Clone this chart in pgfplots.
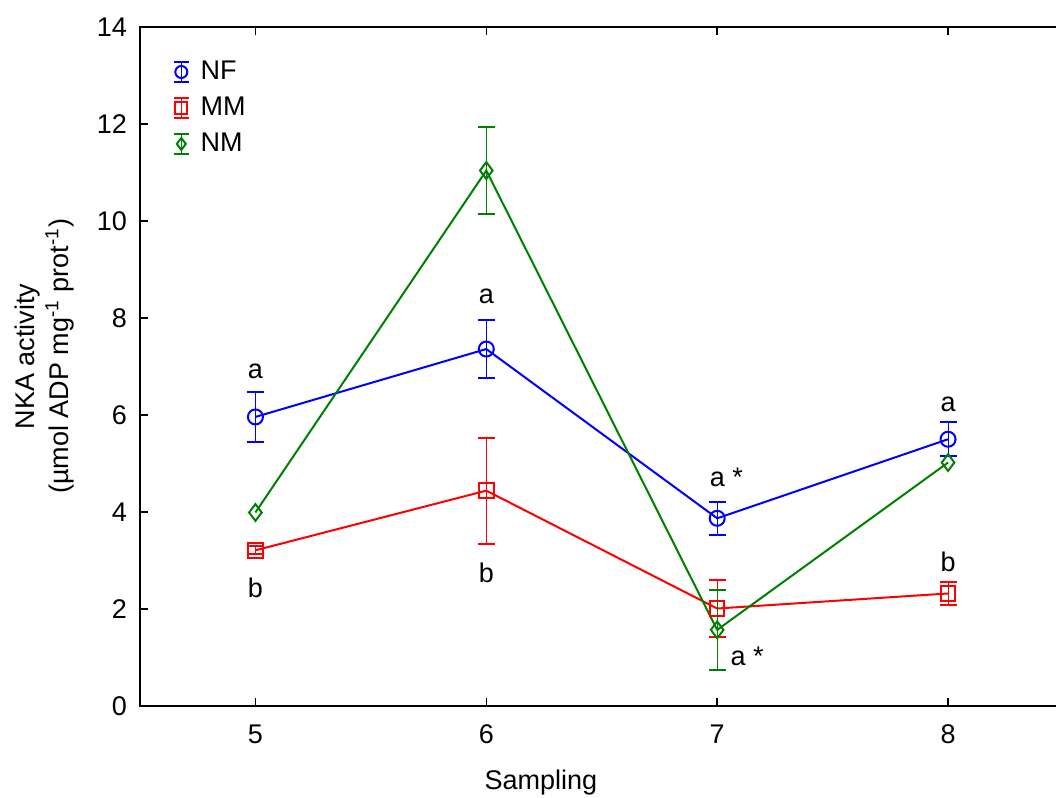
\documentclass[border=0pt]{standalone}
\usepackage{fontspec}
\setmainfont{Liberation Sans}
\usepackage{pgfplots}
\pgfplotsset{compat=1.18}

\definecolor{nfblue}{RGB}{0,0,255}
\definecolor{mmred}{RGB}{255,0,0}
\definecolor{nmgreen}{RGB}{0,128,0}

% NKA activity per sampling: mean and standard error
\pgfplotstableread{
x  y     e
5  5.96  0.52
6  7.36  0.59
7  3.87  0.34
8  5.50  0.35
}\nfdata
\pgfplotstableread{
x  y     e
5  3.21  0.08
6  4.44  1.09
7  2.01  0.58
8  2.32  0.23
}\mmdata
\pgfplotstableread{
x  y
5  3.99
6  11.04
7  1.57
8  5.02
}\nmdata
\pgfplotstableread{
x  y     e
6  11.04  0.89
7  1.57   0.82
}\nmerr

\pgfplotsset{
  ebarlegend/.style={
    legend image code/.code={
      \path (0cm,0cm) (0.7cm,0cm);
      \draw[##1,mark=none,line width=0.8pt] (0.45cm,-5pt) -- (0.45cm,5pt);
      \draw[##1,mark=none,line width=0.8pt] (0.45cm-3.8pt,-5pt) -- (0.45cm+3.8pt,-5pt);
      \draw[##1,mark=none,line width=0.8pt] (0.45cm-3.8pt,5pt) -- (0.45cm+3.8pt,5pt);
      \draw[##1,mark size=3pt,mark options={solid,fill=white}] plot coordinates {(0.45cm,0cm)};
    }
  },
  sebars/.style={
    error bars/y dir=both,
    error bars/y explicit,
    error bars/error mark options={rotate=90, mark size=4.25pt, line width=1pt},
  },
}

\begin{document}
\begin{tikzpicture}
\begin{axis}[
  name=ax,
  scale only axis,
  width=461.75pt, height=339.5pt,
  xmin=4.5, xmax=8.5, ymin=0, ymax=14,
  xtick={5,6,7,8}, ytick={0,2,...,14},
  tick align=inside, tick pos=both,
  major tick length=4pt,
  axis line style={line width=0.8pt},
  every tick/.style={black,line width=0.8pt},
  font=\fontsize{13.5}{17}\selectfont,
  /pgf/number format/assume math mode=true,
  yticklabel style={xshift=-3pt},
  xticklabel style={yshift=-6pt},
  xlabel={Sampling},
  ylabel={NKA activity\\(µmol ADP mg\textsuperscript{-1} prot\textsuperscript{-1})},
  xlabel style={at={(rel axis cs:0.434,0)}, anchor=center, yshift=-38.5pt},
  ylabel style={at={(rel axis cs:-0.103,0.515)}, anchor=center, align=center},
  legend style={at={(rel axis cs:0.009,0.962)}, anchor=north west,
    draw=none, fill=none, row sep=3.2pt, font=\fontsize{13.5}{15}\selectfont},
  legend cell align=left,
]
\addplot[nfblue, line width=1pt, mark=o, mark size=3.75pt, ebarlegend, sebars]
  table[x=x, y=y, y error=e] {\nfdata};
\addlegendentry{NF}
\addplot[mmred, line width=1pt, mark=square, mark size=3.6pt, ebarlegend, sebars]
  table[x=x, y=y, y error=e] {\mmdata};
\addlegendentry{MM}
\addplot[nmgreen, line width=1pt, mark=diamond, mark size=4.2pt, ebarlegend]
  table[x=x, y=y] {\nmdata};
\addlegendentry{NM}
\addplot[nmgreen, line width=1pt, draw=none, forget plot, sebars,
  error bars/error bar style={draw=nmgreen}]
  table[x=x, y=y, y error=e] {\nmerr};

% significance letters
\node at (axis cs:5,6.89) {a};
\node at (axis cs:5,2.43) {b};
\node at (axis cs:6,8.44) {a};
\node at (axis cs:6,2.74) {b};
\node at (axis cs:7.04,4.72) {a *};
\node at (axis cs:7.13,1.02) {a *};
\node at (axis cs:8,6.21) {a};
\node at (axis cs:8,2.98) {b};
\end{axis}
\pgfresetboundingbox
\path ([shift={(-70pt,-46pt)}]ax.south west) rectangle ([shift={(-3.75pt,13.5pt)}]ax.north east);
\end{tikzpicture}
\end{document}
